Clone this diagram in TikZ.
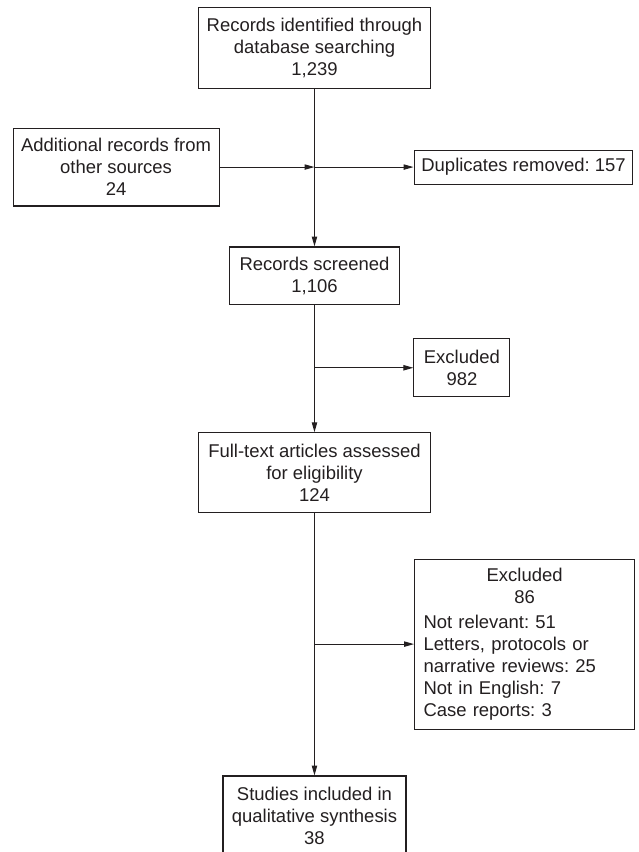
\documentclass[tikz,border=0pt]{standalone}
\usepackage{fontspec}
\setmainfont{Liberation Sans}
\usetikzlibrary{arrows.meta}
\frenchspacing

\definecolor{ink}{HTML}{231F20}
\tikzset{
  every node/.style={font=\fontsize{13.9}{16.5}\selectfont, text=ink},
  box/.style={draw=ink, line width=0.8pt, inner sep=0pt, align=center},
  >={Triangle[length=7.5pt,width=4pt]}
}

\begin{document}
\begin{tikzpicture}
  \useasboundingbox (0,0) rectangle (16.88,22.54);

  \node[box, minimum width=6.16cm, minimum height=2.12cm](Ident) at (8.32,21.27)
    {Records identified through\\database searching\\1,239};
  \node[box, minimum width=5.45cm, minimum height=2.06cm](Addit) at (3.07,18.12)
    {Additional records from\\other sources\\24};
  \node[box, minimum width=5.79cm, minimum height=0.90cm](Dupl) at (13.85,18.12)
    {Duplicates removed: 157};
  \node[box, minimum width=4.52cm, minimum height=1.53cm](Screen) at (8.32,15.24)
    {Records screened\\1,106};
  \node[box, minimum width=2.54cm, minimum height=1.53cm](Excl) at (12.22,12.81)
    {Excluded\\982};
  \node[box, minimum width=6.16cm, minimum height=2.12cm](Full) at (8.32,10.03)
    {Full-text articles assessed\\for eligibility\\124};
  \node[box, align=left, inner xsep=6.75pt, text width=152.25pt,
    minimum height=4.50cm](ExclFull) at (13.88,5.50)
    {{\centering Excluded\\86\par}\vspace{3pt}
      Not relevant: 51\\
      Letters, protocols or\\
      narrative reviews: 25\\
      Not in English: 7\\
      Case reports: 3};
  \node[box, minimum width=4.84cm, minimum height=2.12cm](Incl) at (8.32,0.95)
    {Studies included in\\qualitative synthesis\\38};

  \coordinate (j1) at (Ident.south |- Addit.east);
  \coordinate (j2) at (Screen.south |- Excl.west);
  \coordinate (j3) at (Full.south |- ExclFull.west);

  \draw[->, draw=ink, line width=0.8pt] (Ident) -- (Screen);
  \draw[->, draw=ink, line width=0.8pt] (Addit) -- (j1);
  \draw[->, draw=ink, line width=0.8pt] (j1) -- (Dupl);
  \draw[->, draw=ink, line width=0.8pt] (Screen) -- (Full);
  \draw[->, draw=ink, line width=0.8pt] (j2) -- (Excl);
  \draw[->, draw=ink, line width=0.8pt] (Full) -- (Incl);
  \draw[->, draw=ink, line width=0.8pt] (j3) -- (ExclFull);
\end{tikzpicture}
\end{document}
